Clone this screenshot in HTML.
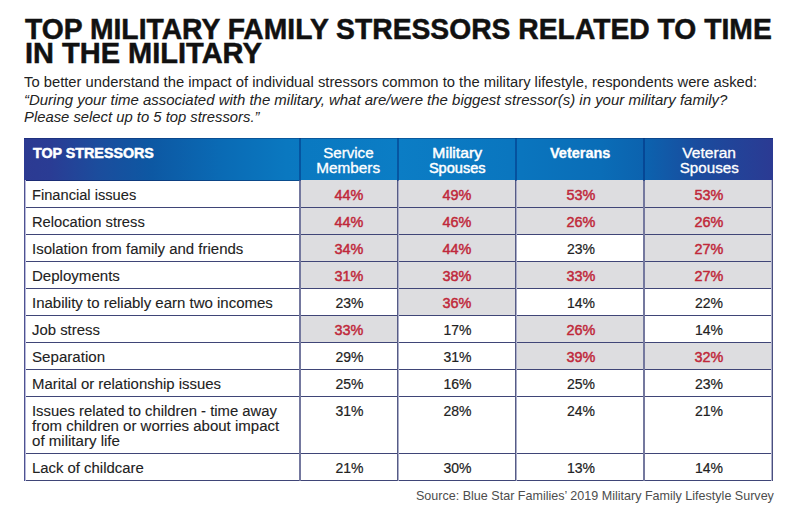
<!DOCTYPE html>
<html><head><meta charset="utf-8">
<style>
html,body{margin:0;padding:0;background:#fff;}
body{width:800px;height:514px;position:relative;overflow:hidden;font-family:"Liberation Sans",sans-serif;}
.t{position:absolute;left:25px;font-weight:bold;color:#111;-webkit-text-stroke:0.5px #111;font-size:29px;line-height:24.5px;white-space:nowrap;}
.s{position:absolute;left:24px;color:#222;font-size:14px;line-height:16px;white-space:nowrap;}
.hdr{position:absolute;left:24px;top:138px;width:749px;height:43px;background:linear-gradient(90deg,#2c3a92 0%,#2a3c94 3.5%,#1b4d9d 10%,#0d58a3 17%,#0a6ab4 26%,#0a78c0 35%,#0b7dc5 50%,#0a76bf 65%,#0a6db7 77%,#0c62ae 83%,#1a4c9e 90%,#2b3a93 100%);}
.g{position:absolute;background:#dddde0;}
.hl{position:absolute;left:24px;width:749px;height:1px;background:#3f4577;}
.vl{position:absolute;top:180px;height:301px;width:1px;background:#3d4a8f;}
.hv{position:absolute;top:138px;height:43px;width:1px;background:rgba(0,40,120,0.45);}
.rt{position:absolute;left:32px;color:#222;-webkit-text-stroke:0.1px #222;font-size:14px;line-height:15px;white-space:nowrap;}
.pr,.pb{position:absolute;text-align:center;font-size:14px;line-height:15px;white-space:nowrap;}
.pr{color:#c0283a;-webkit-text-stroke:0.45px #c0283a;}
.pb{color:#222;-webkit-text-stroke:0.2px #222;}
.h{position:absolute;color:#fff;-webkit-text-stroke:0.3px #fff;font-size:14px;line-height:14.5px;text-align:center;white-space:nowrap;}
.src{position:absolute;left:416px;top:488px;color:#4d4d4d;font-size:13px;line-height:15px;white-space:nowrap;}
</style></head><body>
<div class="t" style="top:17px"><span style="display:inline-block;transform:scaleX(0.975);transform-origin:left 0">TOP MILITARY FAMILY STRESSORS RELATED TO TIME</span></div>
<div class="t" style="top:41px"><span style="display:inline-block;transform:scaleX(1.0);transform-origin:left 0">IN THE MILITARY</span></div>
<div class="s" style="top:73.5px"><span style="display:inline-block;transform:scaleX(1.055);transform-origin:left 0">To better understand the impact of individual stressors common to the military lifestyle, respondents were asked:</span></div>
<div class="s" style="top:92.0px;font-style:italic"><span style="display:inline-block;transform:scaleX(1.069);transform-origin:left 0">“During your time associated with the military, what are/were the biggest stressor(s) in your military family?</span></div>
<div class="s" style="top:109.0px;font-style:italic"><span style="display:inline-block;transform:scaleX(1.058);transform-origin:left 0">Please select up to 5 top stressors.”</span></div>
<div class="hdr"></div><div style="position:absolute;left:24px;top:138px;width:749px;height:1px;background:rgba(10,30,90,0.35)"></div><div style="position:absolute;left:24px;top:180px;width:749px;height:1px;background:rgba(10,25,80,0.45)"></div>
<div class="g" style="left:300px;top:180px;width:97px;height:27px"></div>
<div class="g" style="left:397px;top:180px;width:119px;height:27px"></div>
<div class="g" style="left:516px;top:180px;width:128px;height:27px"></div>
<div class="g" style="left:644px;top:180px;width:128px;height:27px"></div>
<div class="g" style="left:300px;top:207px;width:97px;height:27px"></div>
<div class="g" style="left:397px;top:207px;width:119px;height:27px"></div>
<div class="g" style="left:516px;top:207px;width:128px;height:27px"></div>
<div class="g" style="left:644px;top:207px;width:128px;height:27px"></div>
<div class="g" style="left:300px;top:234px;width:97px;height:27px"></div>
<div class="g" style="left:397px;top:234px;width:119px;height:27px"></div>
<div class="g" style="left:644px;top:234px;width:128px;height:27px"></div>
<div class="g" style="left:300px;top:261px;width:97px;height:27px"></div>
<div class="g" style="left:397px;top:261px;width:119px;height:27px"></div>
<div class="g" style="left:516px;top:261px;width:128px;height:27px"></div>
<div class="g" style="left:644px;top:261px;width:128px;height:27px"></div>
<div class="g" style="left:397px;top:288px;width:119px;height:27px"></div>
<div class="g" style="left:300px;top:315px;width:97px;height:27px"></div>
<div class="g" style="left:516px;top:315px;width:128px;height:27px"></div>
<div class="g" style="left:516px;top:342px;width:128px;height:27px"></div>
<div class="g" style="left:644px;top:342px;width:128px;height:27px"></div>
<div class="hl" style="top:207px"></div>
<div class="hl" style="top:234px"></div>
<div class="hl" style="top:261px"></div>
<div class="hl" style="top:288px"></div>
<div class="hl" style="top:315px"></div>
<div class="hl" style="top:342px"></div>
<div class="hl" style="top:369px"></div>
<div class="hl" style="top:396px"></div>
<div class="hl" style="top:453px"></div>
<div class="hl" style="top:480px"></div>
<div class="vl" style="left:24px;width:1px;background:#4f5290"></div>
<div class="vl" style="left:25px;width:1px;background:#b8badb"></div>
<div class="vl" style="left:299px;width:2px;background:#74789e"></div>
<div class="vl" style="left:397px;width:1px;background:#565b85"></div>
<div class="vl" style="left:398px;width:1px;background:#a9acc8"></div>
<div class="vl" style="left:515px;width:1px;background:#565b85"></div>
<div class="vl" style="left:516px;width:1px;background:#a9acc8"></div>
<div class="vl" style="left:643px;width:2px;background:#74789e"></div>
<div class="vl" style="left:771px;width:1px;background:#b0b3cc"></div>
<div class="vl" style="left:772px;width:1px;background:#4a4f80"></div>
<div class="hv" style="left:299px;width:2px"></div>
<div class="hv" style="left:397px;width:2px"></div>
<div class="hv" style="left:515px;width:2px"></div>
<div class="hv" style="left:643px;width:2px"></div>
<div class="rt" style="top:188px"><span style="display:inline-block;transform:scaleX(1.0464);transform-origin:left 0">Financial issues</span></div>
<div class="pr" style="left:301px;width:97px;top:188px"><span style="display:inline-block;transform:scaleX(1.03);transform-origin:center 0">44%</span></div>
<div class="pr" style="left:398px;width:119px;top:188px"><span style="display:inline-block;transform:scaleX(1.03);transform-origin:center 0">49%</span></div>
<div class="pr" style="left:517px;width:128px;top:188px"><span style="display:inline-block;transform:scaleX(1.03);transform-origin:center 0">53%</span></div>
<div class="pr" style="left:645px;width:128px;top:188px"><span style="display:inline-block;transform:scaleX(1.03);transform-origin:center 0">53%</span></div>
<div class="rt" style="top:215px"><span style="display:inline-block;transform:scaleX(1.0498);transform-origin:left 0">Relocation stress</span></div>
<div class="pr" style="left:301px;width:97px;top:215px"><span style="display:inline-block;transform:scaleX(1.03);transform-origin:center 0">44%</span></div>
<div class="pr" style="left:398px;width:119px;top:215px"><span style="display:inline-block;transform:scaleX(1.03);transform-origin:center 0">46%</span></div>
<div class="pr" style="left:517px;width:128px;top:215px"><span style="display:inline-block;transform:scaleX(1.03);transform-origin:center 0">26%</span></div>
<div class="pr" style="left:645px;width:128px;top:215px"><span style="display:inline-block;transform:scaleX(1.03);transform-origin:center 0">26%</span></div>
<div class="rt" style="top:242px"><span style="display:inline-block;transform:scaleX(1.0689);transform-origin:left 0">Isolation from family and friends</span></div>
<div class="pr" style="left:301px;width:97px;top:242px"><span style="display:inline-block;transform:scaleX(1.03);transform-origin:center 0">34%</span></div>
<div class="pr" style="left:398px;width:119px;top:242px"><span style="display:inline-block;transform:scaleX(1.03);transform-origin:center 0">44%</span></div>
<div class="pb" style="left:517px;width:128px;top:242px"><span style="display:inline-block;transform:scaleX(1.0);transform-origin:center 0">23%</span></div>
<div class="pr" style="left:645px;width:128px;top:242px"><span style="display:inline-block;transform:scaleX(1.03);transform-origin:center 0">27%</span></div>
<div class="rt" style="top:269px"><span style="display:inline-block;transform:scaleX(1.0754);transform-origin:left 0">Deployments</span></div>
<div class="pr" style="left:301px;width:97px;top:269px"><span style="display:inline-block;transform:scaleX(1.03);transform-origin:center 0">31%</span></div>
<div class="pr" style="left:398px;width:119px;top:269px"><span style="display:inline-block;transform:scaleX(1.03);transform-origin:center 0">38%</span></div>
<div class="pr" style="left:517px;width:128px;top:269px"><span style="display:inline-block;transform:scaleX(1.03);transform-origin:center 0">33%</span></div>
<div class="pr" style="left:645px;width:128px;top:269px"><span style="display:inline-block;transform:scaleX(1.03);transform-origin:center 0">27%</span></div>
<div class="rt" style="top:296px"><span style="display:inline-block;transform:scaleX(1.071);transform-origin:left 0">Inability to reliably earn two incomes</span></div>
<div class="pb" style="left:301px;width:97px;top:296px"><span style="display:inline-block;transform:scaleX(1.0);transform-origin:center 0">23%</span></div>
<div class="pr" style="left:398px;width:119px;top:296px"><span style="display:inline-block;transform:scaleX(1.03);transform-origin:center 0">36%</span></div>
<div class="pb" style="left:517px;width:128px;top:296px"><span style="display:inline-block;transform:scaleX(1.0);transform-origin:center 0">14%</span></div>
<div class="pb" style="left:645px;width:128px;top:296px"><span style="display:inline-block;transform:scaleX(1.0);transform-origin:center 0">22%</span></div>
<div class="rt" style="top:323px"><span style="display:inline-block;transform:scaleX(1.0639);transform-origin:left 0">Job stress</span></div>
<div class="pr" style="left:301px;width:97px;top:323px"><span style="display:inline-block;transform:scaleX(1.03);transform-origin:center 0">33%</span></div>
<div class="pb" style="left:398px;width:119px;top:323px"><span style="display:inline-block;transform:scaleX(1.0);transform-origin:center 0">17%</span></div>
<div class="pr" style="left:517px;width:128px;top:323px"><span style="display:inline-block;transform:scaleX(1.03);transform-origin:center 0">26%</span></div>
<div class="pb" style="left:645px;width:128px;top:323px"><span style="display:inline-block;transform:scaleX(1.0);transform-origin:center 0">14%</span></div>
<div class="rt" style="top:350px"><span style="display:inline-block;transform:scaleX(1.0794);transform-origin:left 0">Separation</span></div>
<div class="pb" style="left:301px;width:97px;top:350px"><span style="display:inline-block;transform:scaleX(1.0);transform-origin:center 0">29%</span></div>
<div class="pb" style="left:398px;width:119px;top:350px"><span style="display:inline-block;transform:scaleX(1.0);transform-origin:center 0">31%</span></div>
<div class="pr" style="left:517px;width:128px;top:350px"><span style="display:inline-block;transform:scaleX(1.03);transform-origin:center 0">39%</span></div>
<div class="pr" style="left:645px;width:128px;top:350px"><span style="display:inline-block;transform:scaleX(1.03);transform-origin:center 0">32%</span></div>
<div class="rt" style="top:377px"><span style="display:inline-block;transform:scaleX(1.065);transform-origin:left 0">Marital or relationship issues</span></div>
<div class="pb" style="left:301px;width:97px;top:377px"><span style="display:inline-block;transform:scaleX(1.0);transform-origin:center 0">25%</span></div>
<div class="pb" style="left:398px;width:119px;top:377px"><span style="display:inline-block;transform:scaleX(1.0);transform-origin:center 0">16%</span></div>
<div class="pb" style="left:517px;width:128px;top:377px"><span style="display:inline-block;transform:scaleX(1.0);transform-origin:center 0">25%</span></div>
<div class="pb" style="left:645px;width:128px;top:377px"><span style="display:inline-block;transform:scaleX(1.0);transform-origin:center 0">23%</span></div>
<div class="rt" style="top:404px"><span style="display:inline-block;transform:scaleX(1.0601);transform-origin:left 0">Issues related to children - time away</span><br><span style="display:inline-block;transform:scaleX(1.0735);transform-origin:left 0">from children or worries about impact</span><br><span style="display:inline-block;transform:scaleX(1.0766);transform-origin:left 0">of military life</span></div>
<div class="pb" style="left:301px;width:97px;top:404px"><span style="display:inline-block;transform:scaleX(1.0);transform-origin:center 0">31%</span></div>
<div class="pb" style="left:398px;width:119px;top:404px"><span style="display:inline-block;transform:scaleX(1.0);transform-origin:center 0">28%</span></div>
<div class="pb" style="left:517px;width:128px;top:404px"><span style="display:inline-block;transform:scaleX(1.0);transform-origin:center 0">24%</span></div>
<div class="pb" style="left:645px;width:128px;top:404px"><span style="display:inline-block;transform:scaleX(1.0);transform-origin:center 0">21%</span></div>
<div class="rt" style="top:461px"><span style="display:inline-block;transform:scaleX(1.063);transform-origin:left 0">Lack of childcare</span></div>
<div class="pb" style="left:301px;width:97px;top:461px"><span style="display:inline-block;transform:scaleX(1.0);transform-origin:center 0">21%</span></div>
<div class="pb" style="left:398px;width:119px;top:461px"><span style="display:inline-block;transform:scaleX(1.0);transform-origin:center 0">30%</span></div>
<div class="pb" style="left:517px;width:128px;top:461px"><span style="display:inline-block;transform:scaleX(1.0);transform-origin:center 0">13%</span></div>
<div class="pb" style="left:645px;width:128px;top:461px"><span style="display:inline-block;transform:scaleX(1.0);transform-origin:center 0">14%</span></div>
<div class="h" style="left:33px;top:146px;font-weight:bold;text-align:left;-webkit-text-stroke:0.5px #fff"><span style="display:inline-block;transform:scaleX(1.02);transform-origin:left 0">TOP STRESSORS</span></div>
<div class="h" style="left:300px;width:97px;top:146px"><span style="display:inline-block;transform:scaleX(1.08);transform-origin:center 0">Service</span><br><span style="display:inline-block;transform:scaleX(1.095);transform-origin:center 0">Members</span></div>
<div class="h" style="left:398px;width:119px;top:146px;-webkit-text-stroke:0.45px #fff"><span style="display:inline-block;transform:scaleX(1.12);transform-origin:center 0">Military</span><br><span style="display:inline-block;transform:scaleX(1.04);transform-origin:center 0">Spouses</span></div>
<div class="h" style="left:516px;width:129px;top:146px;font-weight:bold"><span style="display:inline-block;transform:scaleX(1.035);transform-origin:center 0">Veterans</span></div>
<div class="h" style="left:645px;width:128px;top:146px"><span style="display:inline-block;transform:scaleX(1.11);transform-origin:center 0">Veteran</span><br><span style="display:inline-block;transform:scaleX(1.082);transform-origin:center 0">Spouses</span></div>
<div class="src"><span style="display:inline-block;transform:scaleX(0.965);transform-origin:left 0">Source: Blue Star Families’ 2019 Military Family Lifestyle Survey</span></div>
</body></html>
